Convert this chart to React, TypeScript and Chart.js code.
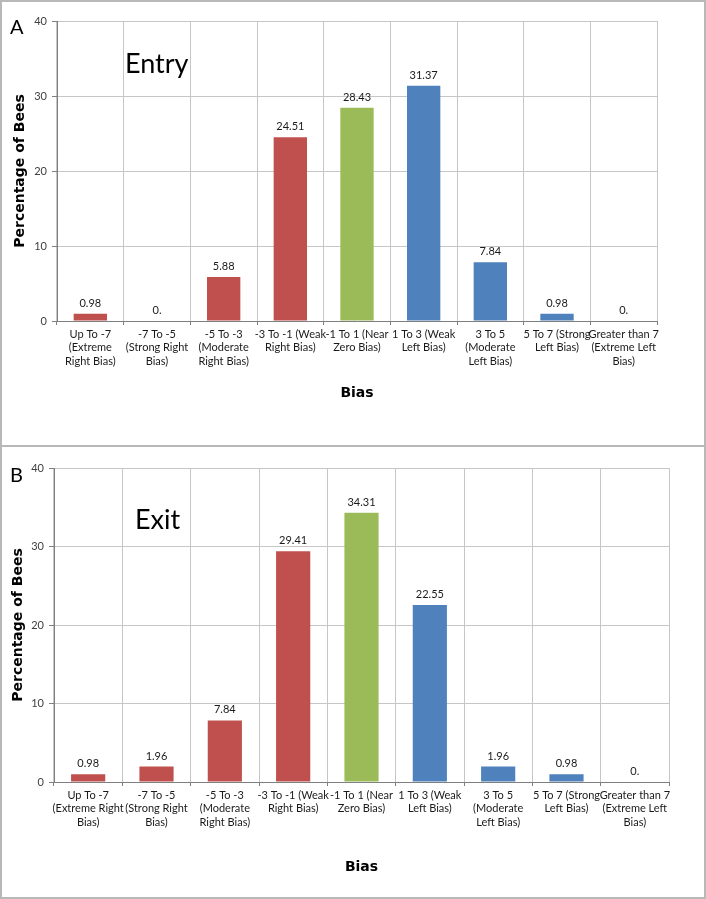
import { useEffect, useRef } from "react";
import { Chart, registerables } from "chart.js";

Chart.register(...registerables);

// ---------- data ----------
const categoriesEntry: string[][] = [
  ["Up To -7", "(Extreme", "Right Bias)"],
  ["-7 To -5", "(Strong Right", "Bias)"],
  ["-5 To -3", "(Moderate", "Right Bias)"],
  ["-3 To -1 (Weak", "Right Bias)"],
  ["-1 To 1 (Near", "Zero Bias)"],
  ["1 To 3 (Weak", "Left Bias)"],
  ["3 To 5", "(Moderate", "Left Bias)"],
  ["5 To 7 (Strong", "Left Bias)"],
  ["Greater than 7", "(Extreme Left", "Bias)"],
];
const categoriesExit: string[][] = [
  ["Up To -7", "(Extreme Right", "Bias)"],
  ["-7 To -5", "(Strong Right", "Bias)"],
  ["-5 To -3", "(Moderate", "Right Bias)"],
  ["-3 To -1 (Weak", "Right Bias)"],
  ["-1 To 1 (Near", "Zero Bias)"],
  ["1 To 3 (Weak", "Left Bias)"],
  ["3 To 5", "(Moderate", "Left Bias)"],
  ["5 To 7 (Strong", "Left Bias)"],
  ["Greater than 7", "(Extreme Left", "Bias)"],
];
const entryValues = [0.98, 0, 5.88, 24.51, 28.43, 31.37, 7.84, 0.98, 0];
const exitValues = [0.98, 1.96, 7.84, 29.41, 34.31, 22.55, 1.96, 0.98, 0];
const barColors = [
  "#C0504D", "#C0504D", "#C0504D", "#C0504D",
  "#9BBB59",
  "#4F81BD", "#4F81BD", "#4F81BD", "#4F81BD",
];
const yMin = 0;
const yMax = 40;
const yStep = 10;
const xTitle = "Bias";
const yTitle = "Percentage of Bees";

// ---------- plugins ----------
const valueLabels = {
  id: "valueLabels",
  afterDatasetsDraw(chart: any) {
    const ctx = chart.ctx;
    const meta = chart.getDatasetMeta(0);
    const data = chart.data.datasets[0].data as number[];
    ctx.save();
    ctx.font = "11px Lato";
    ctx.fillStyle = "#1a1a1a";
    ctx.textAlign = "center";
    ctx.textBaseline = "alphabetic";
    meta.data.forEach((bar: any, i: number) => {
      const v = data[i];
      const txt = v === 0 ? "0." : v.toFixed(2);
      ctx.fillText(txt, bar.x, bar.y - 7);
    });
    ctx.restore();
  },
};

const panelText = {
  id: "panelText",
  afterDraw(chart: any, _args: any, opts: any) {
    const ctx = chart.ctx;
    ctx.save();
    ctx.fillStyle = "#000";
    ctx.textAlign = "left";
    ctx.textBaseline = "alphabetic";
    ctx.font = "20px Lato";
    ctx.fillText(opts.letter, opts.letterX, opts.letterY);
    ctx.font = "27px Lato";
    ctx.fillText(opts.title, opts.titleX, opts.titleY);
    ctx.restore();
  },
};

type PanelProps = {
  top: number;
  height: number;
  labels: string[][];
  values: number[];
  letter: string;
  title: string;
  letterY: number;
  titleX: number;
  titleY: number;
  plotLeft: number;
  plotRight: number;
  plotTop: number;
  plotBottom: number;
  yTitlePad: number;
  xTitleCenter: number;
};

function Panel(p: PanelProps) {
  const ref = useRef<HTMLCanvasElement | null>(null);
  useEffect(() => {
    if (!ref.current) return;
    const W = 706;
    const chart = new Chart(ref.current, {
      type: "bar",
      data: {
        labels: p.labels,
        datasets: [
          {
            data: p.values,
            backgroundColor: barColors,
            borderWidth: 0,
            barPercentage: 0.5,
            categoryPercentage: 1,
          },
        ],
      },
      options: {
        animation: false,
        responsive: false,
        devicePixelRatio: 1,
        layout: {
          padding: { left: 0, top: p.plotTop, right: W - p.plotRight, bottom: 0 },
        },
        plugins: {
          legend: { display: false },
          tooltip: { enabled: false },
          // @ts-ignore
          panelText: {
            letter: p.letter,
            letterX: 10,
            letterY: p.letterY,
            title: p.title,
            titleX: p.titleX,
            titleY: p.titleY,
          },
        },
        scales: {
          x: {
            type: "category",
            afterFit: (s: any) => {
              s.height = p.height - p.plotBottom;
            },
            grid: {
              offset: true,
              color: "#c6c6c6",
              tickColor: "#7f7f7f",
              tickLength: 4,
            },
            border: { color: "#7f7f7f", width: 1 },
            ticks: {
              autoSkip: false,
              maxRotation: 0,
              minRotation: 0,
              padding: 3,
              color: "#1a1a1a",
              font: { family: "Lato", size: 11, lineHeight: 1.2 },
            },
            title: {
              display: true,
              text: xTitle,
              color: "#000",
              font: { family: "DejaVu Sans", size: 14, weight: "bold", lineHeight: 1.2 },
              padding: { top: 0, bottom: p.height - p.xTitleCenter - 8.4 },
            },
          },
          y: {
            min: yMin,
            max: yMax,
            afterFit: (s: any) => {
              s.width = p.plotLeft;
            },
            grid: {
              color: "#c6c6c6",
              tickColor: "#7f7f7f",
              tickLength: 5,
            },
            border: { color: "#7f7f7f", width: 1 },
            ticks: {
              stepSize: yStep,
              padding: 5,
              color: "#404040",
              font: { family: "Lato", size: 11 },
            },
            title: {
              display: true,
              text: yTitle,
              color: "#000",
              font: { family: "DejaVu Sans", size: 14, weight: "bold", lineHeight: 1.2 },
              padding: { top: p.yTitlePad, bottom: 0 },
            },
          },
        },
      },
      plugins: [valueLabels, panelText],
    });
    return () => chart.destroy();
  }, []);
  return (
    <canvas
      ref={ref}
      width={706}
      height={p.height}
      style={{ position: "absolute", left: 0, top: p.top, width: 706, height: p.height, display: "block" }}
    />
  );
}

export default function App() {
  return (
    <div style={{ position: "absolute", left: 0, top: 0, width: 706, height: 899, background: "#fff" }}>
      <Panel
        top={0}
        height={445}
        labels={categoriesEntry}
        values={entryValues}
        letter="A"
        title="Entry"
        letterY={34}
        titleX={125}
        titleY={73}
        plotLeft={57}
        plotRight={657}
        plotTop={21}
        plotBottom={321}
        yTitlePad={12}
        xTitleCenter={393}
      />
      <Panel
        top={445}
        height={454}
        labels={categoriesExit}
        values={exitValues}
        letter="B"
        title="Exit"
        letterY={37}
        titleX={135}
        titleY={84}
        plotLeft={54}
        plotRight={669}
        plotTop={23}
        plotBottom={337}
        yTitlePad={10}
        xTitleCenter={422}
      />
      <div
        style={{
          position: "absolute", left: 0, top: 0, width: 706, height: 447,
          boxSizing: "border-box", border: "2px solid #b8b8b8", pointerEvents: "none",
        }}
      />
      <div
        style={{
          position: "absolute", left: 0, top: 445, width: 706, height: 454,
          boxSizing: "border-box", border: "2px solid #b8b8b8", pointerEvents: "none",
        }}
      />
    </div>
  );
}
